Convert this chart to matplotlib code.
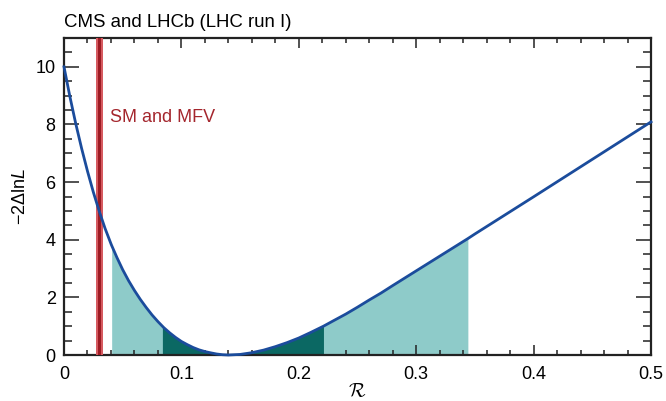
import numpy as np
from matplotlib import pyplot as plt

# likelihood scan
r_vals = np.array([0.0, 0.005, 0.010, 0.015, 0.020, 0.025, 0.030, 0.035, 0.040,
                   0.0406, 0.045, 0.050, 0.055, 0.060, 0.065, 0.070, 0.075,
                   0.080, 0.0838, 0.085, 0.090, 0.095, 0.100, 0.105, 0.110,
                   0.115, 0.120, 0.125, 0.130, 0.135, 0.140,
                   0.15, 0.16, 0.17, 0.18, 0.19, 0.20, 0.21, 0.221, 0.23,
                   0.24, 0.25, 0.26, 0.27, 0.28, 0.30, 0.344, 0.35, 0.40,
                   0.45, 0.50])
nll_vals = np.array([10.0, 8.97, 8.03, 7.17, 6.38, 5.65, 4.99, 4.39, 3.86,
                     3.80, 3.39, 2.96, 2.58, 2.24, 1.93, 1.65, 1.39,
                     1.16, 1.00, 0.95, 0.77, 0.61, 0.47, 0.36, 0.26,
                     0.18, 0.12, 0.075, 0.035, 0.01, 0.0,
                     0.02, 0.08, 0.17, 0.29, 0.43, 0.59, 0.78, 1.00, 1.20,
                     1.42, 1.66, 1.91, 2.15, 2.41, 2.92, 4.04, 4.20, 5.49,
                     6.79, 8.09])

# shaded intervals
band2 = (0.0406, 0.344)
band1 = (0.0838, 0.221)

# SM and MFV prediction
sm_outer = (0.0273, 0.0335)
sm_inner = (0.0287, 0.0318)

plt.rcParams['font.family'] = ['Liberation Sans', 'DejaVu Sans']
plt.rcParams['mathtext.fontset'] = 'custom'
plt.rcParams['mathtext.rm'] = 'Liberation Sans'
plt.rcParams['mathtext.it'] = 'Liberation Sans:italic'

fig = plt.figure(figsize=(6.66, 4.01), dpi=100)
ax = fig.add_axes([0.0961, 0.1147, 0.8814, 0.7905])

m2 = (r_vals >= band2[0]) & (r_vals <= band2[1])
m1 = (r_vals >= band1[0]) & (r_vals <= band1[1])
ax.fill_between(r_vals, 0, nll_vals, where=m2, color='#8ecbc9', lw=0, zorder=1)
ax.fill_between(r_vals, 0, nll_vals, where=m1, color='#0b6863', lw=0, zorder=2)

ax.axvspan(sm_outer[0], sm_outer[1], color='#d65a60', lw=0, zorder=3)
ax.axvspan(sm_inner[0], sm_inner[1], color='#9c1c24', lw=0, zorder=4)

ax.plot(r_vals, nll_vals, color='#1b4c9c', lw=2.0, zorder=5, clip_on=False,
        solid_joinstyle='round')

ax.text(0.0395, 8.25, 'SM and MFV', color='#a4262d', fontsize=13, va='center')

ax.set_xlim(0, 0.5)
ax.set_ylim(0, 11)
ax.set_xticks(np.arange(0, 0.51, 0.1))
ax.set_xticklabels(['0', '0.1', '0.2', '0.3', '0.4', '0.5'])
ax.set_xticks(np.arange(0, 0.5, 0.02), minor=True)
ax.set_yticks([0, 2, 4, 6, 8, 10])
ax.set_yticks(np.arange(0, 11.01, 0.5), minor=True)

ax.tick_params(axis='both', which='both', direction='in', top=True, right=True,
               labelsize=13, width=1.1, color='#222222')
ax.tick_params(axis='x', which='major', length=7, pad=8)
ax.tick_params(axis='x', which='minor', length=3.5)
ax.tick_params(axis='y', which='major', length=11, pad=6)
ax.tick_params(axis='y', which='minor', length=5.5)
for s in ax.spines.values():
    s.set_linewidth(1.6)
    s.set_color('#222222')

ax.set_xlabel(r'$\mathcal{R}$', fontsize=14, math_fontfamily='cm', labelpad=0)
ax.set_ylabel(r'$-2\Delta\mathrm{ln}\mathit{L}$', fontsize=13, labelpad=5)
ax.set_title('CMS and LHCb (LHC run I)', loc='left', fontsize=13.4, pad=8, x=0.0)

fig.savefig('out.png', dpi=100)
